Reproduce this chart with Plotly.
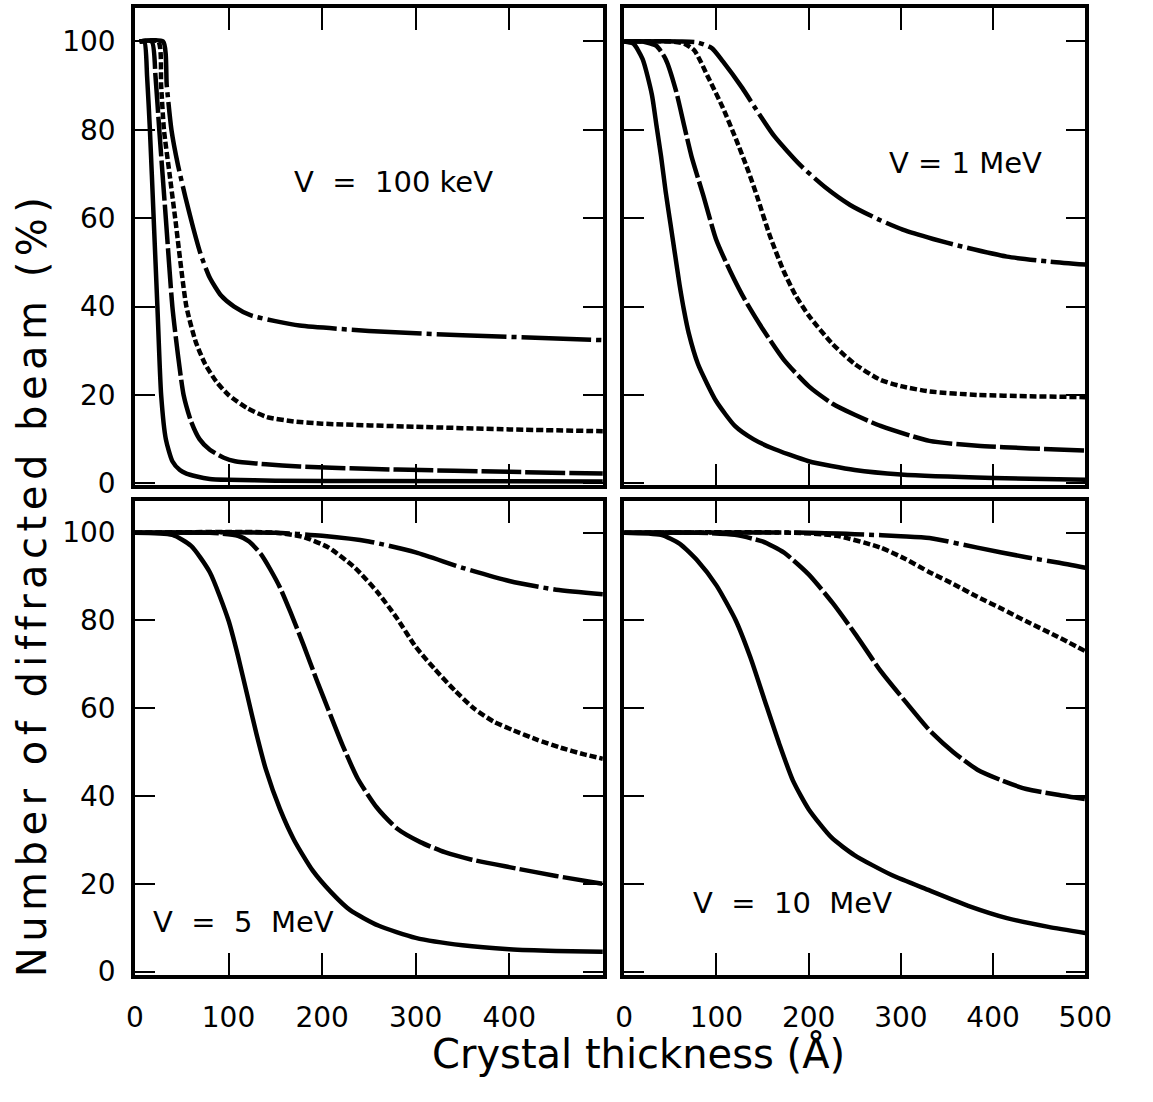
import plotly.graph_objects as go

# ---------------- data ----------------
# Panel V = 100 keV
kev100_x1 = [5, 10, 13, 16, 20, 24, 28, 33, 40, 48, 55, 65, 80, 100, 150, 250, 500]
kev100_y1 = [100, 100, 92, 80, 60, 40, 20, 10, 5, 3, 2.2, 1.6, 1.0, 0.8, 0.6, 0.5, 0.4]
kev100_x2 = [5, 18, 22, 26, 33, 40, 46, 52, 60, 69, 80, 95, 107, 140, 176, 230, 280, 400, 500]
kev100_y2 = [100, 100, 92, 80, 60, 40, 29, 20, 14, 10, 7.6, 5.8, 5, 4.3, 3.8, 3.4, 3.1, 2.6, 2.2]
kev100_x3 = [5, 25, 28, 31, 37, 43, 55, 65, 75, 87, 100, 120, 141, 170, 200, 300, 400, 500]
kev100_y3 = [100, 100, 90, 80, 70, 60, 40, 32, 27, 23, 20, 17, 15, 14, 13.5, 12.8, 12.2, 11.8]
kev100_x4 = [5, 30, 34, 39, 46, 54, 62, 70, 80, 92, 106, 124, 150, 176, 250, 350, 450, 500]
kev100_y4 = [100, 100, 90, 80, 72, 64.7, 58, 52, 46.5, 42.5, 40, 38, 36.7, 35.7, 34.5, 33.5, 32.8, 32.4]

# Panel V = 1 MeV
mev1_x1 = [0, 10, 20, 30, 35, 40, 45, 50, 55, 60, 65, 70, 80, 90, 100, 120, 140, 160, 200, 250, 300, 400, 500]
mev1_y1 = [100, 99.5, 96, 88, 81, 74, 66, 59, 52, 45, 39, 34, 27, 22.5, 18.5, 13, 10, 8, 5, 3, 2, 1.2, 0.8]
mev1_x2 = [0, 20, 35, 45, 56, 65, 73, 86, 100, 115, 131, 150, 173, 200, 226, 250, 278, 331, 383, 440, 500]
mev1_y2 = [100, 100, 99, 96, 89, 81, 74, 65, 55, 48, 41.5, 35, 28, 22, 18, 15.5, 13, 9.6, 8.5, 7.9, 7.4]
mev1_x3 = [0, 50, 65, 76, 92, 107, 121, 134, 144, 158, 173, 186, 200, 226, 250, 278, 300, 331, 383, 440, 500]
mev1_y3 = [100, 100, 99.5, 98, 91.5, 85, 78, 71, 65, 56, 48, 42.5, 38, 31.5, 27, 23.4, 22, 20.8, 20, 19.7, 19.5]
mev1_x4 = [0, 60, 79, 95, 107, 128, 145, 163, 191, 218, 245, 275, 302, 335, 366, 415, 460, 500]
mev1_y4 = [100, 100, 99.8, 98.5, 95.5, 89.5, 84, 78.5, 72, 67, 63, 59.8, 57.4, 55.3, 53.6, 51.3, 50.2, 49.5]

# Panel V = 5 MeV
mev5_x1 = [0, 40, 60, 80, 100, 110, 120, 130, 140, 155, 170, 190, 210, 230, 260, 300, 350, 400, 450, 500]
mev5_y1 = [100, 99.5, 97, 91, 80, 72, 63, 54, 46, 37, 30, 23, 18, 14, 10.5, 7.7, 6, 5.1, 4.7, 4.5]
mev5_x2 = [0, 80, 110, 122, 135, 145, 155, 166, 180, 195, 207, 222, 238, 258, 280, 305, 331, 360, 400, 450, 500]
mev5_y2 = [100, 100, 99.3, 98, 95, 91.5, 87.5, 82, 74.5, 66, 59.5, 51.5, 44, 37.5, 32.6, 29.5, 27.2, 25.5, 23.8, 21.8, 20]
mev5_x3 = [0, 150, 180, 207, 235, 259, 280, 300, 320, 342, 362, 383, 404, 430, 455, 480, 500]
mev5_y3 = [100, 100, 99, 96.6, 92, 86.5, 80.5, 74, 69, 64, 60, 57, 55, 52.8, 51, 49.5, 48.5]
mev5_x4 = [0, 150, 200, 250, 300, 350, 400, 450, 500]
mev5_y4 = [100, 100, 99.3, 98, 95.5, 92, 89, 87, 86]

# Panel V = 10 MeV
mev10_x1 = [0, 40, 60, 80, 100, 121, 137, 152, 168, 183, 200, 225, 250, 290, 331, 373, 415, 460, 500]
mev10_y1 = [100, 99.5, 97.5, 93.5, 88, 80, 71.5, 62, 52, 43.5, 37, 30.5, 26.5, 22, 18.5, 15, 12.2, 10.2, 8.8]
mev10_x2 = [0, 80, 120, 150, 173, 200, 226, 252, 278, 305, 331, 357, 383, 410, 436, 470, 500]
mev10_y2 = [100, 100, 99.5, 98, 95.5, 90.5, 84, 76.5, 68.5, 61.5, 55, 50, 46, 43.5, 41.6, 40.3, 39.3]
mev10_x3 = [0, 180, 230, 278, 305, 331, 357, 383, 410, 436, 470, 500]
mev10_y3 = [100, 100, 99.3, 96.6, 94, 91, 88.3, 85.4, 82.6, 79.8, 76.3, 73]
mev10_x4 = [0, 200, 260, 300, 331, 383, 436, 470, 500]
mev10_y4 = [100, 100, 99.6, 99.2, 98.8, 96.6, 94.4, 93.2, 92]

panel_labels = ["V\u00a0\u00a0=\u00a0\u00a0100\u00a0keV", "V\u00a0=\u00a01\u00a0MeV",
                "V\u00a0\u00a0=\u00a0\u00a05\u00a0\u00a0MeV", "V\u00a0\u00a0=\u00a0\u00a010\u00a0\u00a0MeV"]
x_ticks = [0, 100, 200, 300, 400, 500]
y_ticks = [0, 20, 40, 60, 80, 100]
x_title = "Crystal thickness (Å)"
y_title = "Number of diffracted beam (%)"

# ---------------- figure ----------------
W, H = 1153, 1102
FONT = "DejaVu Sans"
dashes = ["solid", "40px,4px", "7px,3px", "70px,5px,5px,5px"]

panels = [
    ([kev100_x1, kev100_x2, kev100_x3, kev100_x4], [kev100_y1, kev100_y2, kev100_y3, kev100_y4]),
    ([mev1_x1, mev1_x2, mev1_x3, mev1_x4], [mev1_y1, mev1_y2, mev1_y3, mev1_y4]),
    ([mev5_x1, mev5_x2, mev5_x3, mev5_x4], [mev5_y1, mev5_y2, mev5_y3, mev5_y4]),
    ([mev10_x1, mev10_x2, mev10_x3, mev10_x4], [mev10_y1, mev10_y2, mev10_y3, mev10_y4]),
]

fig = go.Figure()
for i, (xs, ys) in enumerate(panels):
    suffix = "" if i == 0 else str(i + 1)
    for k in range(4):
        fig.add_trace(go.Scatter(
            x=xs[k], y=ys[k], mode="lines",
            line=dict(color="black", width=4.5, dash=dashes[k], shape="spline", smoothing=0.6),
            xaxis="x" + suffix, yaxis="y" + suffix, showlegend=False, hoverinfo="skip"))

xL = [130 / W, 613 / W]
xR = [635 / W, 1111 / W]
yT = [1 - 492 / H, 1 - 8 / H]
yB = [1 - 988 / H, 1 - 508 / H]
rT = [-0.45, 107.6]
rB = [-0.67, 107.2]

def xaxis(dom, anchor, labels, tickvals):
    return dict(domain=dom, anchor=anchor, range=[0, 500], showgrid=False, zeroline=False,
                showline=True, linecolor="black", linewidth=3.5, mirror="ticks",
                ticks="inside", ticklen=22, tickwidth=2, tickcolor="black",
                tickvals=tickvals, ticktext=[str(v) for v in tickvals],
                showticklabels=labels, ticklabelstandoff=15,
                tickfont=dict(family=FONT, size=28, color="black"))

def yaxis(dom, anchor, rng, labels):
    return dict(domain=dom, anchor=anchor, range=rng, showgrid=False, zeroline=False,
                showline=True, linecolor="black", linewidth=3.5, mirror="ticks",
                ticks="inside", ticklen=20, tickwidth=2, tickcolor="black",
                tickvals=y_ticks, ticktext=[str(v) for v in y_ticks],
                showticklabels=labels, ticklabelstandoff=10,
                tickfont=dict(family=FONT, size=28, color="black"))

fig.update_layout(
    width=W, height=H, margin=dict(l=0, r=0, t=0, b=0),
    paper_bgcolor="white", plot_bgcolor="white",
    xaxis=xaxis(xL, "y", False, x_ticks),
    yaxis=yaxis(yT, "x", rT, True),
    xaxis2=xaxis(xR, "y2", False, x_ticks),
    yaxis2=yaxis(yT, "x2", rT, False),
    xaxis3=xaxis(xL, "y3", True, x_ticks[:-1]),
    yaxis3=yaxis(yB, "x3", rB, True),
    xaxis4=xaxis(xR, "y4", True, x_ticks),
    yaxis4=yaxis(yB, "x4", rB, False),
)

ann_pos = [(397, 185), (987, 165), (242, 935), (809, 915)]
for txt, (px, py) in zip(panel_labels, ann_pos):
    fig.add_annotation(text=txt, x=px / W, y=1 - py / H, xref="paper", yref="paper",
                       xanchor="center", yanchor="middle", showarrow=False,
                       font=dict(family=FONT, size=29, color="black"))

fig.add_annotation(text=x_title, x=650 / W, y=1 - 1068 / H, xref="paper", yref="paper",
                   xanchor="center", yanchor="middle", showarrow=False,
                   font=dict(family=FONT, size=40, color="black"))
fig.add_annotation(text='<span style="letter-spacing:5.5px">' + y_title + '</span>',
                   x=24 / W, y=1 - 592 / H, xref="paper", yref="paper",
                   xanchor="center", yanchor="middle", showarrow=False, textangle=-90,
                   font=dict(family=FONT, size=40, color="black"))

fig.write_html("out.html")
